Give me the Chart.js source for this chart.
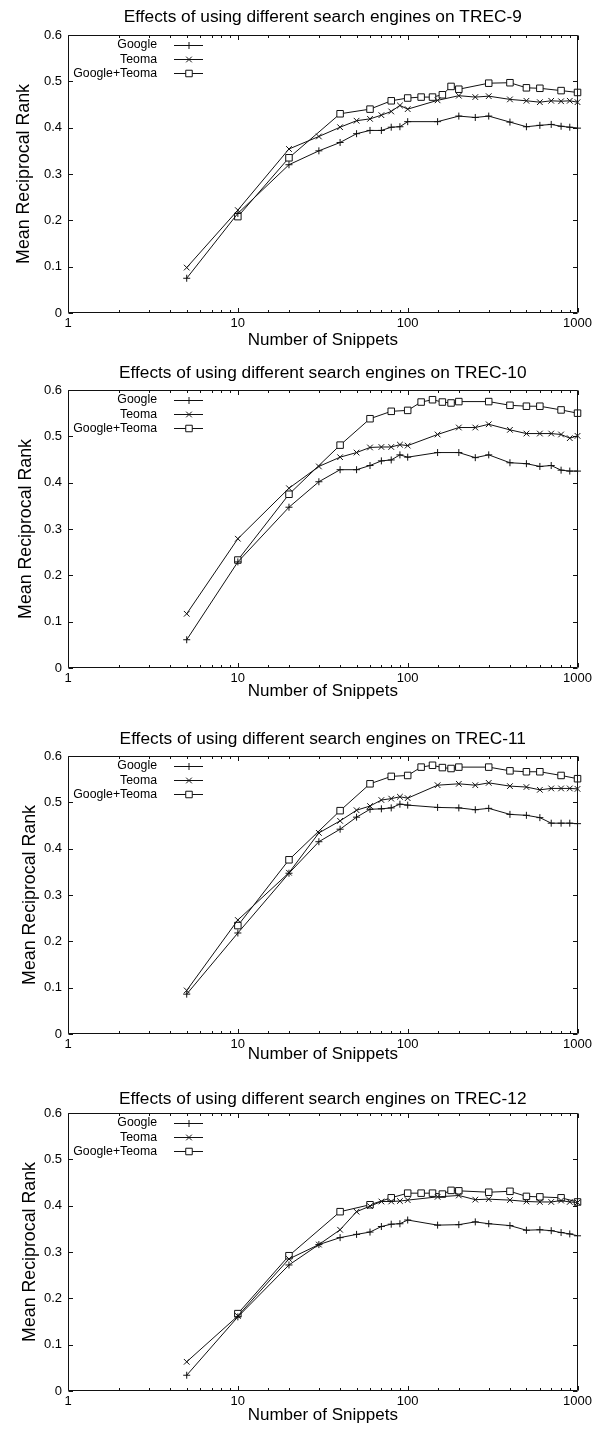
<!DOCTYPE html>
<html>
<head>
<meta charset="utf-8">
<script src="https://cdn.jsdelivr.net/npm/chart.js@4.4.1/dist/chart.umd.min.js"></script>
<style>
html,body{margin:0;padding:0;background:#fff;}
body{width:595px;height:1435px;position:relative;overflow:hidden;}
.panel{position:absolute;left:0;width:595px;height:357px;}
</style>
</head>
<body>
<div class="panel" style="top:0px"><canvas id="p0"></canvas></div>
<div class="panel" style="top:355px"><canvas id="p1"></canvas></div>
<div class="panel" style="top:721px"><canvas id="p2"></canvas></div>
<div class="panel" style="top:1078px"><canvas id="p3"></canvas></div>
<script>
// ---------- data ----------
const panelTitles = [
  'Effects of using different search engines on TREC-9',
  'Effects of using different search engines on TREC-10',
  'Effects of using different search engines on TREC-11',
  'Effects of using different search engines on TREC-12'
];
const seriesLabels = ['Google', 'Teoma', 'Google+Teoma'];
const xAxisTitle = 'Number of Snippets';
const yAxisTitle = 'Mean Reciprocal Rank';
const xTickLabels = ['1', '10', '100', '1000'];

// number of snippets used by the single-engine runs and the combined run
const snippetsSingle   = [5,10,20,30,40,50,60,70,80,90,100,150,200,250,300,400,500,600,700,800,900,1000];
const snippetsCombined = [10,20,40,60,80,100,120,140,160,180,200,300,400,500,600,800,1000];

const trec9Google   = [0.075,0.215,0.320,0.350,0.368,0.387,0.394,0.394,0.401,0.402,0.413,0.413,0.425,0.422,0.425,0.412,0.402,0.405,0.407,0.403,0.401,0.399];
const trec9Teoma    = [0.098,0.222,0.354,0.381,0.401,0.415,0.419,0.427,0.435,0.448,0.440,0.459,0.469,0.466,0.468,0.461,0.458,0.455,0.458,0.457,0.458,0.455];
const trec9Combined = [0.208,0.335,0.430,0.440,0.458,0.464,0.466,0.466,0.471,0.489,0.483,0.496,0.497,0.486,0.485,0.480,0.476];

const trec10Google   = [0.061,0.229,0.347,0.402,0.428,0.428,0.437,0.447,0.449,0.460,0.455,0.465,0.465,0.454,0.460,0.443,0.441,0.435,0.437,0.427,0.425,0.425];
const trec10Teoma    = [0.117,0.279,0.388,0.435,0.455,0.465,0.476,0.477,0.477,0.482,0.480,0.504,0.519,0.519,0.526,0.514,0.506,0.506,0.506,0.504,0.496,0.501];
const trec10Combined = [0.233,0.375,0.481,0.538,0.554,0.556,0.574,0.579,0.574,0.572,0.575,0.575,0.567,0.565,0.565,0.557,0.550];

const trec11Google   = [0.086,0.218,0.347,0.415,0.442,0.468,0.485,0.486,0.488,0.496,0.494,0.489,0.488,0.484,0.487,0.474,0.472,0.467,0.455,0.455,0.455,0.454];
const trec11Teoma    = [0.094,0.246,0.348,0.434,0.460,0.483,0.492,0.505,0.508,0.512,0.509,0.537,0.540,0.537,0.542,0.535,0.533,0.527,0.530,0.530,0.530,0.529];
const trec11Combined = [0.234,0.376,0.482,0.540,0.556,0.558,0.576,0.580,0.575,0.573,0.576,0.576,0.568,0.566,0.566,0.558,0.551];

const trec12Google   = [0.034,0.160,0.272,0.316,0.331,0.338,0.343,0.355,0.360,0.361,0.369,0.358,0.359,0.365,0.361,0.357,0.347,0.348,0.346,0.342,0.339,0.335];
const trec12Teoma    = [0.063,0.162,0.285,0.316,0.348,0.387,0.399,0.409,0.409,0.410,0.412,0.419,0.422,0.413,0.414,0.412,0.409,0.408,0.408,0.411,0.408,0.407];
const trec12Combined = [0.167,0.292,0.387,0.402,0.417,0.427,0.427,0.427,0.425,0.433,0.432,0.429,0.431,0.420,0.419,0.417,0.408];

const panelSeries = [
  [trec9Google,  trec9Teoma,  trec9Combined],
  [trec10Google, trec10Teoma, trec10Combined],
  [trec11Google, trec11Teoma, trec11Combined],
  [trec12Google, trec12Teoma, trec12Combined]
];

// ---------- layout (per panel fine positions) ----------
const titleCenterY = [17, 18, 18.7, 21];
const yTitleCenterX = [24, 26, 30.5, 30];
const xTitleCenterY = [340, 336.3, 333.7, 337];
const CANVAS_H = 357, PLOT_TOP = 35, PLOT_BOTTOM = 313, PLOT_LEFT = 68, RIGHT_PAD = 15;
const TITLE_SIZE = 17.3, XTITLE_SIZE = 17, YTITLE_SIZE = 17.8, TICK_SIZE = 13, KEY_SIZE = 12.3;

const FONT = '"Liberation Sans", Arial, Helvetica, sans-serif';
Chart.defaults.font.family = FONT;
Chart.defaults.color = '#000';

const markerStyles = [
  {pointStyle: 'cross',    pointRadius: 3.5},
  {pointStyle: 'crossRot', pointRadius: 4},
  {pointStyle: 'rect',     pointRadius: 4.6}
];

function isPow10(v) {
  const l = Math.log10(v);
  return Math.abs(l - Math.round(l)) < 1e-9;
}

const frameTicks = {
  id: 'frameTicks',
  afterDatasetsDraw(chart) {
    const {ctx, chartArea: a, scales} = chart;
    const xs = scales.x, ys = scales.y;
    const L = Math.round(a.left) + 0.5, R = Math.round(a.right) - 0.5;
    const T = Math.round(a.top) + 0.5, B = Math.round(a.bottom) - 0.5;
    ctx.save();
    ctx.strokeStyle = '#111';
    ctx.lineWidth = 1;
    ctx.beginPath();
    ctx.moveTo(L, T); ctx.lineTo(R, T); ctx.lineTo(R, B); ctx.lineTo(L, B); ctx.closePath();
    xs.ticks.forEach(t => {
      const px = Math.round(xs.getPixelForValue(t.value)) + 0.5;
      if (px < L - 1 || px > R + 1) return;
      const len = isPow10(t.value) ? 4.5 : 2.5;
      ctx.moveTo(px, B); ctx.lineTo(px, B - len);
      ctx.moveTo(px, T); ctx.lineTo(px, T + len);
    });
    ys.ticks.forEach(t => {
      const py = Math.round(ys.getPixelForValue(t.value)) + 0.5;
      ctx.moveTo(L, py); ctx.lineTo(L + 4.5, py);
      ctx.moveTo(R, py); ctx.lineTo(R - 4.5, py);
    });
    ctx.stroke();
    ctx.restore();
  }
};

const keyBox = {
  id: 'keyBox',
  afterDatasetsDraw(chart) {
    const {ctx, chartArea: a} = chart;
    ctx.save();
    ctx.font = KEY_SIZE + 'px ' + FONT;
    ctx.textAlign = 'right';
    ctx.textBaseline = 'middle';
    chart.data.datasets.forEach((ds, i) => {
      const yy = a.top + 10 + i * 14.2;
      ctx.fillStyle = '#000';
      ctx.fillText(ds.label, a.left + 89, yy);
      const ly = Math.round(yy) + 0.5;
      ctx.strokeStyle = '#111';
      ctx.lineWidth = 1;
      ctx.beginPath();
      ctx.moveTo(a.left + 106, ly);
      ctx.lineTo(a.left + 135, ly);
      ctx.stroke();
      ctx.fillStyle = '#fff';
      if (Chart.helpers && Chart.helpers.drawPoint) {
        Chart.helpers.drawPoint(ctx, {pointStyle: ds.pointStyle, radius: ds.pointRadius, rotation: 0, borderWidth: 1}, a.left + 121, ly);
      }
    });
    ctx.restore();
  }
};

function buildPanel(idx) {
  const datasets = panelSeries[idx].map((vals, s) => {
    const xsrc = s === 2 ? snippetsCombined : snippetsSingle;
    return {
      label: seriesLabels[s],
      data: xsrc.map((x, i) => ({x: x, y: vals[i]})),
      borderColor: '#111',
      borderWidth: 1,
      pointBorderColor: '#111',
      pointBackgroundColor: '#fff',
      pointBorderWidth: 1,
      pointStyle: markerStyles[s].pointStyle,
      pointRadius: markerStyles[s].pointRadius,
      pointHoverRadius: markerStyles[s].pointRadius,
      tension: 0,
      fill: false,
      clip: false
    };
  });
  const tTop = titleCenterY[idx] - TITLE_SIZE * 1.2 / 2;
  const tBottom = PLOT_TOP - tTop - TITLE_SIZE * 1.2;
  new Chart(document.getElementById('p' + idx), {
    type: 'line',
    data: {datasets},
    options: {
      responsive: true,
      maintainAspectRatio: false,
      animation: false,
      devicePixelRatio: 1,
      events: [],
      layout: {padding: {left: 0, right: RIGHT_PAD, top: 0, bottom: 0}},
      plugins: {
        legend: {display: false},
        tooltip: {enabled: false},
        title: {
          display: true,
          text: panelTitles[idx],
          fullSize: false,
          color: '#000',
          font: {size: TITLE_SIZE, weight: 'normal', family: FONT},
          padding: {top: tTop, bottom: tBottom}
        }
      },
      scales: {
        x: {
          type: 'logarithmic',
          min: 1,
          max: 1000,
          grid: {display: false, drawTicks: false},
          border: {display: false},
          ticks: {
            autoSkip: false,
            maxRotation: 0,
            padding: 3,
            font: {size: TICK_SIZE},
            color: '#000',
            callback: (v) => isPow10(v) ? xTickLabels[Math.round(Math.log10(v))] : ''
          },
          title: {
            display: true,
            text: xAxisTitle,
            color: '#000',
            font: {size: XTITLE_SIZE},
            padding: {top: 0, bottom: CANVAS_H - xTitleCenterY[idx] - XTITLE_SIZE * 1.2 / 2}
          },
          afterFit: (sc) => { sc.height = CANVAS_H - PLOT_BOTTOM; }
        },
        y: {
          type: 'linear',
          min: 0,
          max: 0.6,
          grid: {display: false, drawTicks: false},
          border: {display: false},
          ticks: {
            stepSize: 0.1,
            padding: 6,
            font: {size: TICK_SIZE},
            color: '#000',
            callback: (v) => Math.abs(v) < 1e-9 ? '0' : Number(v).toFixed(1)
          },
          title: {
            display: true,
            text: yAxisTitle,
            color: '#000',
            font: {size: YTITLE_SIZE},
            padding: {top: yTitleCenterX[idx] - YTITLE_SIZE * 1.2 / 2, bottom: 0}
          },
          afterFit: (sc) => { sc.width = PLOT_LEFT; }
        }
      }
    },
    plugins: [frameTicks, keyBox]
  });
}

for (let i = 0; i < 4; i++) buildPanel(i);
</script>
</body>
</html>
